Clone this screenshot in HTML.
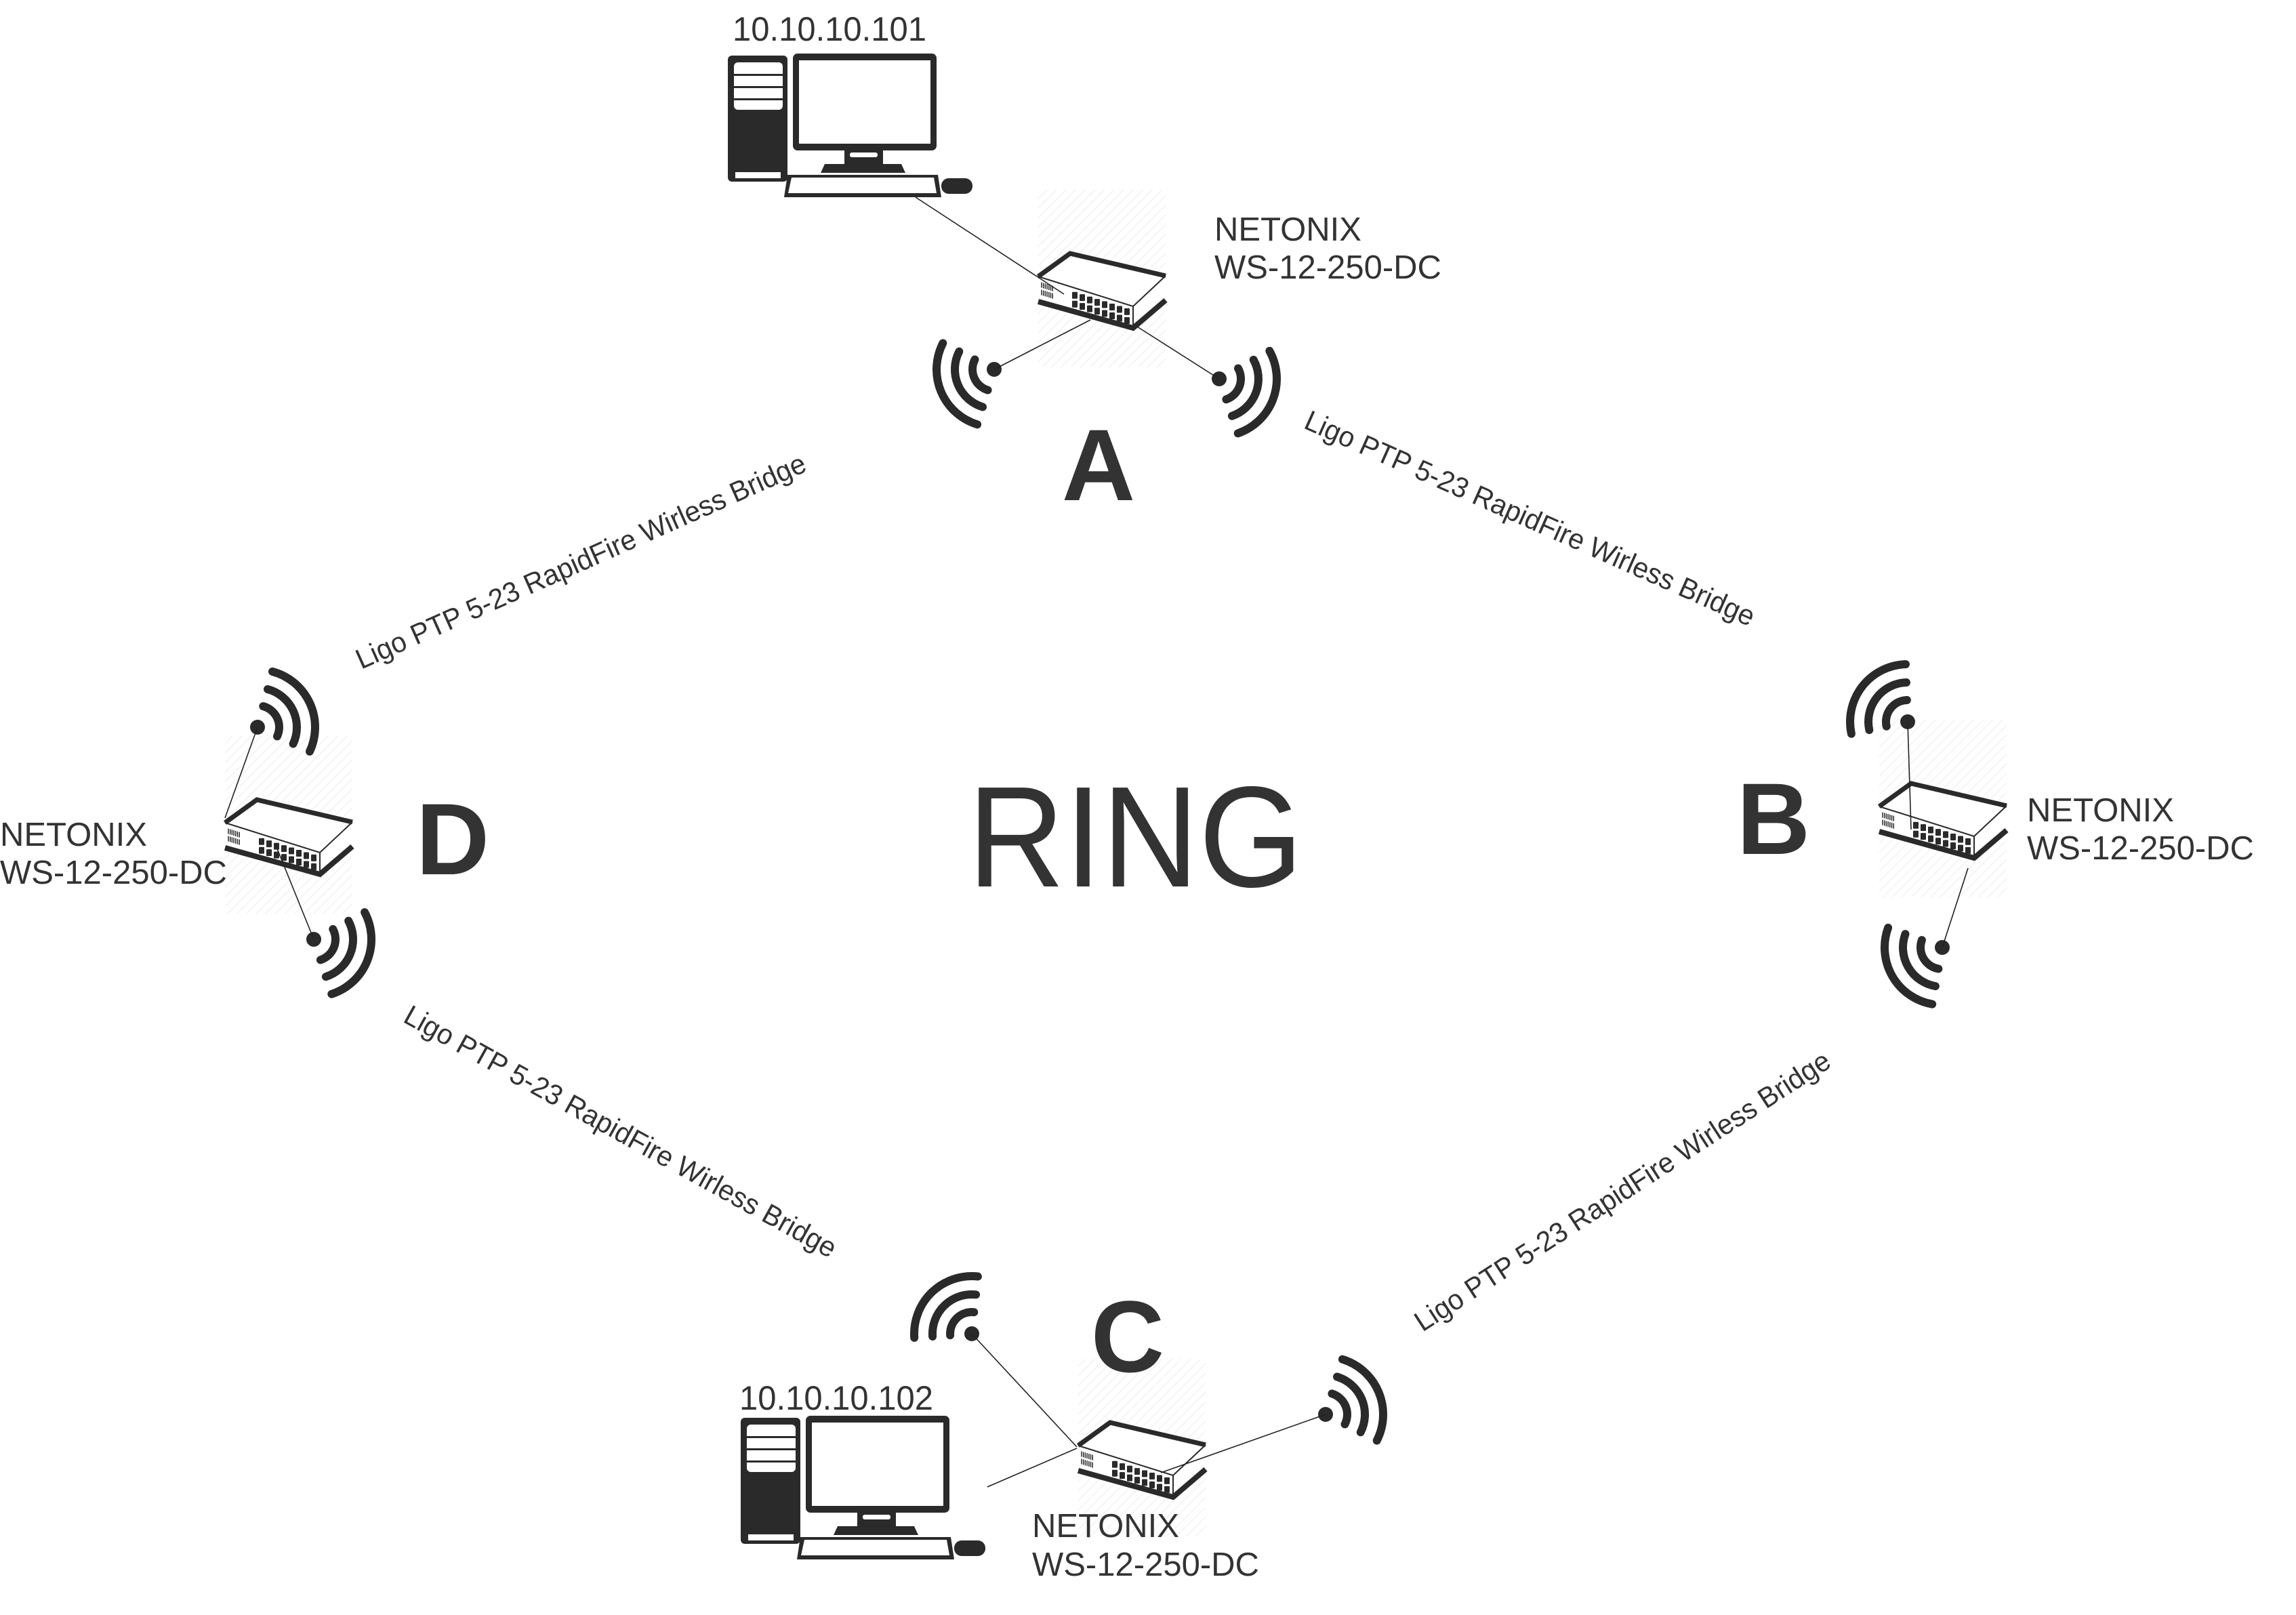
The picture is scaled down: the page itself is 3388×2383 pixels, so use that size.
<!DOCTYPE html>
<html><head><meta charset="utf-8">
<style>
html,body{margin:0;padding:0;background:#fff;}
svg{display:block;}
text{font-family:"Liberation Sans",Arial,sans-serif;fill:#333;}
</style></head>
<body>
<svg id="s" xmlns="http://www.w3.org/2000/svg" width="3388" height="2383" viewBox="0 0 3388 2383">
<defs>
<pattern id="h" width="10" height="10" patternUnits="userSpaceOnUse" patternTransform="rotate(45)">
<line x1="0" y1="0" x2="0" y2="10" stroke="#ececec" stroke-width="2"/>
</pattern>
<g id="comp">
<rect x="1074" y="82" width="88" height="186" rx="6" fill="#2a2a2a"/>
<rect x="1083" y="92" width="72" height="70" rx="6" fill="#fff"/>
<line x1="1083" y1="110.5" x2="1155" y2="110.5" stroke="#2a2a2a" stroke-width="3"/>
<line x1="1083" y1="128.5" x2="1155" y2="128.5" stroke="#2a2a2a" stroke-width="3"/>
<line x1="1083" y1="146.5" x2="1155" y2="146.5" stroke="#2a2a2a" stroke-width="3"/>
<rect x="1085" y="254" width="67" height="9" fill="#fff"/>
<rect x="1170" y="79" width="212" height="143" rx="7" fill="#2a2a2a"/>
<rect x="1179" y="89" width="194" height="123" fill="#fff"/>
<rect x="1246" y="221" width="57" height="22" fill="#2a2a2a"/>
<rect x="1254" y="225" width="41" height="7" rx="3" fill="#fff"/>
<polygon points="1217,242 1330,242 1336,255 1211,255" fill="#2a2a2a"/>
<polygon points="1162,258 1384,258 1389,291 1157,291" fill="#2a2a2a"/>
<polygon points="1168,262 1378,262 1382,285 1163,285" fill="#fff"/>
<rect x="1389" y="263" width="46" height="23" rx="11" fill="#2a2a2a"/>
</g>
</defs>
<rect width="3388" height="2383" fill="#fff"/>
<g id="gfx"></g>
<use href="#comp"/>
<use href="#comp" transform="translate(19,2010)"/>

<g stroke="#222" stroke-width="1.6" fill="none">
<line x1="1351" y1="291" x2="1570" y2="434"/>
<line x1="1467" y1="545" x2="1609" y2="472"/>
<line x1="1678" y1="482" x2="1799" y2="559"/>
<line x1="2815" y1="1065" x2="2820" y2="1224"/>
<line x1="2866" y1="1398" x2="2904" y2="1281"/>
<line x1="1457" y1="2194" x2="1589" y2="2137"/>
<line x1="1434" y1="1968" x2="1589" y2="2135"/>
<line x1="1956" y1="2087" x2="1713" y2="2173"/>
<line x1="380" y1="1073" x2="332" y2="1207"/>
<line x1="463" y1="1386" x2="406" y2="1245"/>
</g>

<text x="1081" y="60" font-size="50" textLength="286" lengthAdjust="spacingAndGlyphs">10.10.10.101</text>
<text x="1091" y="2080" font-size="50" textLength="286" lengthAdjust="spacingAndGlyphs">10.10.10.102</text>

<text x="1792" y="355" font-size="49">NETONIX</text>
<text x="1792" y="411" font-size="49">WS-12-250-DC</text>
<text x="2991" y="1212" font-size="49">NETONIX</text>
<text x="2991" y="1268" font-size="49">WS-12-250-DC</text>
<text x="1523" y="2268" font-size="49">NETONIX</text>
<text x="1523" y="2325" font-size="49">WS-12-250-DC</text>
<text x="0" y="1248" font-size="49">NETONIX</text>
<text x="0" y="1304" font-size="49">WS-12-250-DC</text>

<g font-weight="bold" font-size="150" text-anchor="middle">
<text x="1621" y="738">A</text>
<text x="2617" y="1260">B</text>
<text x="1664" y="2024">C</text>
<text x="668" y="1290">D</text>
</g>
<text x="1428" y="1308" font-size="212" textLength="495" lengthAdjust="spacingAndGlyphs">RING</text>

<g font-size="42">
<text transform="translate(533,988) rotate(-24)" textLength="722" lengthAdjust="spacingAndGlyphs">Ligo PTP 5-23 RapidFire Wirless Bridge</text>
<text transform="translate(1922,631) rotate(24)" textLength="722" lengthAdjust="spacingAndGlyphs">Ligo PTP 5-23 RapidFire Wirless Bridge</text>
<text transform="translate(593,1507) rotate(29)" textLength="722" lengthAdjust="spacingAndGlyphs">Ligo PTP 5-23 RapidFire Wirless Bridge</text>
<text transform="translate(2099,1966) rotate(-33)" textLength="722" lengthAdjust="spacingAndGlyphs">Ligo PTP 5-23 RapidFire Wirless Bridge</text>
</g>
</svg>
<script>
(function(){
var NS="http://www.w3.org/2000/svg";
var g=document.getElementById("gfx");
function el(n,a){var e=document.createElementNS(NS,n);for(var k in a)e.setAttribute(k,a[k]);g.appendChild(e);return e;}
var D="#2a2a2a";
function wifi(x,y,dir){
  el("circle",{cx:x,cy:y,r:11,fill:D});
  [32,58,85].forEach(function(r){
    var a1=(dir-50)*Math.PI/180,a2=(dir+50)*Math.PI/180;
    var d="M"+(x+r*Math.cos(a1)).toFixed(1)+","+(y+r*Math.sin(a1)).toFixed(1)+" A"+r+","+r+" 0 0 1 "+(x+r*Math.cos(a2)).toFixed(1)+","+(y+r*Math.sin(a2)).toFixed(1);
    el("path",{d:d,fill:"none",stroke:D,"stroke-width":12,"stroke-linecap":"round"});
  });
}
function sw(ox,oy){
  el("rect",{x:ox,y:oy,width:188,height:262,fill:"url(#h)"});
  function P(pts){return pts.map(function(p){return (ox+p[0])+","+(oy+p[1]);}).join(" ");}
  el("polygon",{points:P([[0,128],[47,94],[188,127],[140,172]]),fill:"#fff"});
  el("polygon",{points:P([[0,128],[140,172],[140,208],[0,170]]),fill:"#fff"});
  el("polygon",{points:P([[140,172],[188,127],[188,166],[140,208]]),fill:"#fff"});
  el("polyline",{points:P([[0,128],[47,94],[188,127]]),fill:"none",stroke:D,"stroke-width":7});
  el("polyline",{points:P([[0,128],[140,172],[188,127]]),fill:"none",stroke:D,"stroke-width":2});
  el("line",{x1:ox+140,y1:oy+172,x2:ox+140,y2:oy+204,stroke:D,"stroke-width":2});
  el("polyline",{points:P([[0,165],[140,204],[188,163]]),fill:"none",stroke:D,"stroke-width":8});
  for(var i=0;i<8;i++){
    var px=50+11*i, yt=128+px*44/140;
    el("rect",{x:ox+px,y:oy+yt+7,width:8,height:10,rx:1,fill:D});
    el("rect",{x:ox+px,y:oy+yt+20,width:8,height:10,rx:1,fill:D});
  }
  for(var j=0;j<7;j++){
    var vx=5+j*2.7, vy=128+vx*44/140;
    el("line",{x1:ox+vx,y1:oy+vy+7,x2:ox+vx,y2:oy+vy+15,stroke:D,"stroke-width":1.5});
    el("line",{x1:ox+vx,y1:oy+vy+18,x2:ox+vx,y2:oy+vy+26,stroke:D,"stroke-width":1.5});
  }
}
sw(1532,280);sw(2773,1062);sw(1591,2005);sw(332,1086);
wifi(1467,545,157);wifi(1799,559,21);
wifi(2815,1065,218);wifi(2866,1398,150);
wifi(1434,1968,226);wifi(1956,2087,-23);
wifi(380,1073,-25);wifi(463,1386,22);
})();
</script>
</body></html>
